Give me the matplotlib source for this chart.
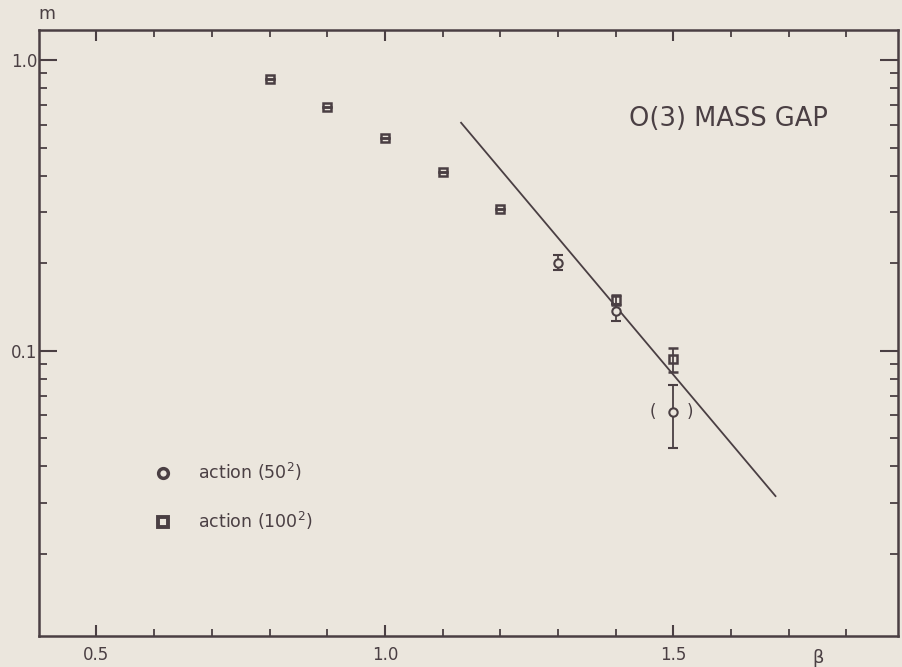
import matplotlib
matplotlib.use("Agg")
import matplotlib.pyplot as plt
from matplotlib.lines import Line2D
from matplotlib.ticker import FixedLocator, LogLocator, NullFormatter, FixedFormatter

INK = "#4a3f43"
PAPER = "#ebe6dd"

# action (100^2) -- squares
beta_100 = [0.8, 0.9, 1.0, 1.1, 1.2, 1.4, 1.5]
m_100 = [0.858, 0.690, 0.538, 0.413, 0.307, 0.150, 0.0933]
err_lo_100 = [0.0, 0.0, 0.0, 0.0, 0.0, 0.006, 0.0085]
err_hi_100 = [0.0, 0.0, 0.0, 0.0, 0.0, 0.006, 0.0092]

# action (50^2) -- circles
beta_50 = [1.3, 1.4, 1.5]
m_50 = [0.201, 0.137, 0.0613]
err_lo_50 = [0.012, 0.010, 0.0149]
err_hi_50 = [0.013, 0.008, 0.0147]

# asymptotic scaling line (end points)
line_beta = [1.132, 1.677]
line_m = [0.609, 0.0316]

x_major = [0.5, 1.0, 1.5]
x_labels = ["0.5", "1.0", "1.5"]

plt.rcParams["font.family"] = ["DejaVu Sans"]

fig = plt.figure(figsize=(9.02, 6.67), dpi=100, facecolor=PAPER)
ax = fig.add_axes([0.043, 0.046, 0.953, 0.909], facecolor=PAPER)

ax.set_yscale("log")
ax.set_xlim(0.4, 1.89)
ax.set_ylim(0.0104, 1.27)

ax.plot(line_beta, line_m, color=INK, lw=1.3)

ax.errorbar(beta_100, m_100, yerr=[err_lo_100, err_hi_100], fmt="s", ms=6,
            mfc="none", mec=INK, mew=1.8, ecolor=INK, elinewidth=1.3,
            capsize=3.5, capthick=1.5, zorder=3)
ax.errorbar(beta_50, m_50, yerr=[err_lo_50, err_hi_50], fmt="o", ms=6,
            mfc=PAPER, mec=INK, mew=1.5, ecolor=INK, elinewidth=1.3,
            capsize=3.5, capthick=1.5, zorder=3)

# brackets around the last 50^2 point
ax.annotate("(", (beta_50[-1], m_50[-1]), xytext=(-15, 0), textcoords="offset points",
            ha="center", va="center", fontsize=12, color=INK)
ax.annotate(")", (beta_50[-1], m_50[-1]), xytext=(12, 0), textcoords="offset points",
            ha="center", va="center", fontsize=12, color=INK)

# axes frame and ticks
for s in ax.spines.values():
    s.set_color(INK)
    s.set_linewidth(1.8)

ax.xaxis.set_major_locator(FixedLocator(x_major))
ax.xaxis.set_major_formatter(FixedFormatter(x_labels))
ax.xaxis.set_minor_locator(FixedLocator([0.6, 0.7, 0.8, 0.9, 1.1, 1.2, 1.3, 1.4, 1.6, 1.7, 1.8]))
ax.yaxis.set_major_locator(FixedLocator([0.1, 1.0]))
ax.yaxis.set_major_formatter(FixedFormatter(["0.1", "1.0"]))
ax.yaxis.set_minor_locator(LogLocator(base=10, subs=range(2, 10)))
ax.yaxis.set_minor_formatter(NullFormatter())

ax.tick_params(which="both", direction="in", top=True, right=True, colors=INK,
               labelsize=12, labelcolor=INK)
ax.tick_params(axis="x", which="major", length=8, width=1.5, pad=7)
ax.tick_params(axis="x", which="minor", length=5, width=1.3)
ax.tick_params(axis="y", which="major", length=13, width=1.5, pad=1)
ax.tick_params(axis="y", which="minor", length=6, width=1.3)

ax.text(-0.001, 1.012, "m", transform=ax.transAxes, fontsize=12.5, color=INK,
        ha="left", va="bottom")
ax.text(1.75, -0.036, "β", transform=ax.get_xaxis_transform(), fontsize=13, color=INK,
        ha="center", va="center")
ax.text(0.918, 0.853, "O(3) MASS GAP", transform=ax.transAxes, fontsize=18.5, color=INK,
        ha="right", va="center")

handles = [
    Line2D([], [], ls="none", marker="o", ms=7, mfc="none", mec=INK, mew=2.5),
    Line2D([], [], ls="none", marker="s", ms=7, mfc="none", mec=INK, mew=2.8),
]
fig.legend(handles, [r"action (50$^2$)", r"action (100$^2$)"], loc="center left",
           bbox_to_anchor=(0.172, 0.256), frameon=False, fontsize=12.5,
           handlelength=0.9, handletextpad=1.55, labelspacing=1.55,
           borderpad=0, borderaxespad=0, labelcolor=INK)

fig.savefig("out.png", dpi=100, facecolor=PAPER)
